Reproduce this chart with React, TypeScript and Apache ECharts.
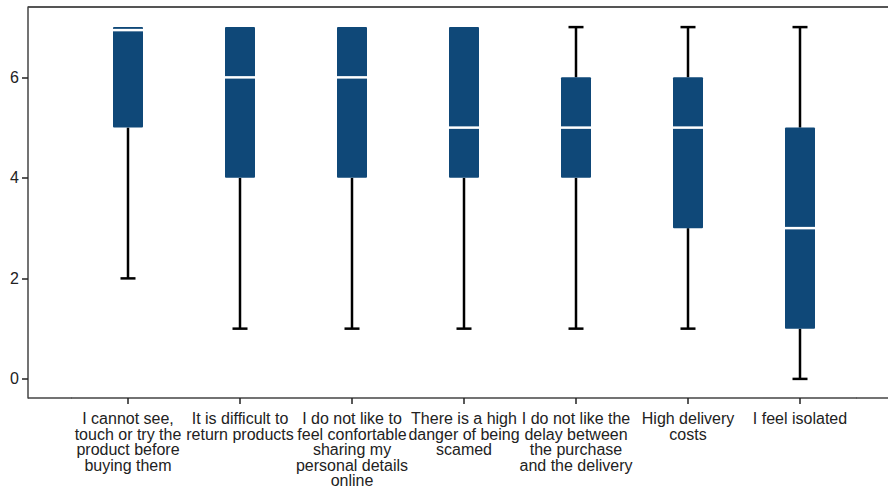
import React, { useEffect, useRef } from "react";
import * as echarts from "echarts";

const categories = [
  "I cannot see,\ntouch or try the\nproduct before\nbuying them",
  "It is difficult to\nreturn products",
  "I do not like to\nfeel confortable\nsharing my\npersonal details\nonline",
  "There is a high\ndanger of being\nscamed",
  "I do not like the\ndelay between\nthe purchase\nand the delivery",
  "High delivery\ncosts",
  "I feel isolated",
];
const mins = [2, 1, 1, 1, 1, 1, 0];
const q1s = [5, 4, 4, 4, 4, 3, 1];
const medians = [7, 6, 6, 5, 5, 5, 3];
const q3s = [7, 7, 7, 7, 6, 6, 5];
const maxs = [7, 7, 7, 7, 7, 7, 7];
const yTicks = [0, 2, 4, 6];

const BOX = "#0f4878";

export default function App() {
  const ref = useRef<HTMLDivElement>(null);
  useEffect(() => {
    if (!ref.current) return;
    const chart = echarts.init(ref.current, undefined, { renderer: "svg" });
    const data = categories.map((_, i) => [i, mins[i], q1s[i], medians[i], q3s[i], maxs[i]]);
    const renderItem = (params: any, api: any) => {
      const c = api.value(0);
      const pMin = api.coord([c, api.value(1)]);
      const pQ1 = api.coord([c, api.value(2)]);
      const pMed = api.coord([c, api.value(3)]);
      const pQ3 = api.coord([c, api.value(4)]);
      const pMax = api.coord([c, api.value(5)]);
      const x = pMed[0];
      const bw = 30;
      const cw = 15;
      const children: any[] = [];
      const wStyle = { stroke: "#000", lineWidth: 2.5 };
      if (pMin[1] - pQ1[1] > 0.5) {
        children.push({ type: "line", shape: { x1: x, y1: pQ1[1], x2: x, y2: pMin[1] }, style: wStyle });
        children.push({ type: "line", shape: { x1: x - cw / 2, y1: pMin[1], x2: x + cw / 2, y2: pMin[1] }, style: wStyle });
      }
      if (pQ3[1] - pMax[1] > 0.5) {
        children.push({ type: "line", shape: { x1: x, y1: pQ3[1], x2: x, y2: pMax[1] }, style: wStyle });
        children.push({ type: "line", shape: { x1: x - cw / 2, y1: pMax[1], x2: x + cw / 2, y2: pMax[1] }, style: wStyle });
      }
      children.push({
        type: "rect",
        shape: { x: x - bw / 2, y: pQ3[1], width: bw, height: pQ1[1] - pQ3[1], r: 1 },
        style: { fill: BOX },
      });
      let my = pMed[1];
      if (Math.abs(my - pQ3[1]) < 1) my = pQ3[1] + 3;
      children.push({
        type: "line",
        shape: { x1: x - bw / 2, y1: my, x2: x + bw / 2, y2: my },
        style: { stroke: "#fff", lineWidth: 2.5 },
      });
      return { type: "group", children };
    };
    const font = "Liberation Sans, Arial, sans-serif";
    chart.setOption({
      animation: false,
      backgroundColor: "#fff",
      grid: { left: 72, right: 32, top: 7, bottom: 92 },
      xAxis: {
        type: "category",
        data: categories,
        axisLine: { show: true, onZero: false, lineStyle: { color: "#444", width: 1.5 } },
        axisTick: { show: true, alignWithLabel: true, length: 6, lineStyle: { color: "#222", width: 1.5 } },
        axisLabel: {
          interval: 0,
          margin: 13,
          fontFamily: font,
          fontSize: 16,
          lineHeight: 15.5,
          color: "#222",
        },
        splitLine: { show: false },
      },
      yAxis: {
        type: "value",
        min: -0.38,
        max: 7.4,
        offset: 44,
        axisLine: { show: true, lineStyle: { color: "#444", width: 1.5 } },
        axisTick: { show: true, length: 6, customValues: yTicks, lineStyle: { color: "#222", width: 1.5 } },
        axisLabel: {
          customValues: yTicks,
          margin: 9,
          fontFamily: font,
          fontSize: 16,
          color: "#222",
        },
        splitLine: { show: false },
      },
      graphic: [
        { type: "line", shape: { x1: 28, y1: 7, x2: 888, y2: 7 }, style: { stroke: "#555", lineWidth: 2 } },
        { type: "line", shape: { x1: 28, y1: 398, x2: 72, y2: 398 }, style: { stroke: "#444", lineWidth: 1.5 } },
        { type: "line", shape: { x1: 856, y1: 398, x2: 888, y2: 398 }, style: { stroke: "#444", lineWidth: 1.5 } },
      ],
      series: [
        {
          type: "custom",
          renderItem,
          data,
          encode: { x: 0, y: [1, 2, 3, 4, 5] },
        },
      ],
    });
    return () => chart.dispose();
  }, []);
  return <div ref={ref} style={{ position: "fixed", left: 0, top: 0, width: 888, height: 490 }} />;
}
